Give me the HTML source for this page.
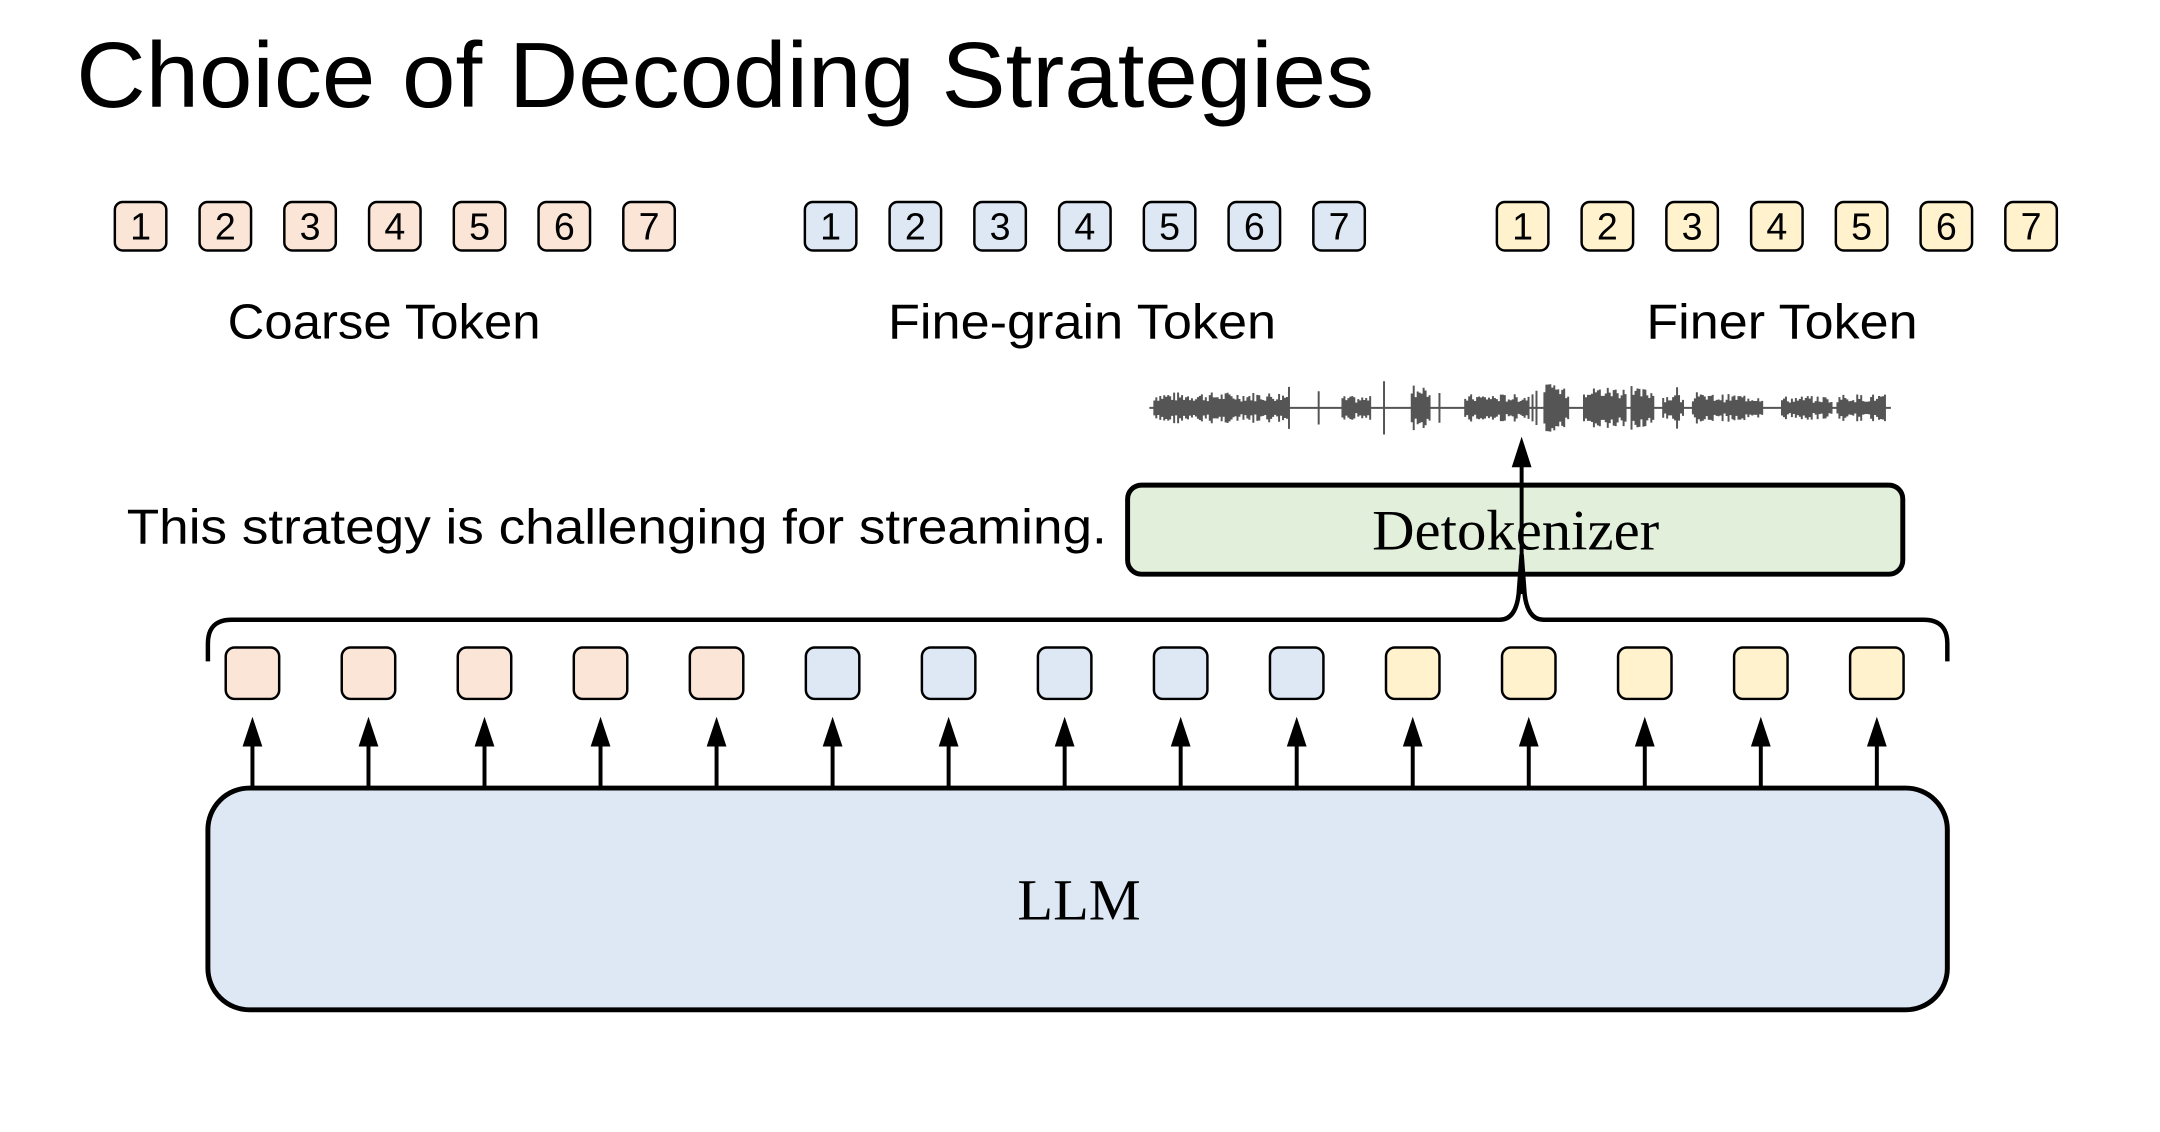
<!DOCTYPE html>
<html><head><meta charset="utf-8"><style>html,body{margin:0;padding:0;background:#fff}svg{display:block}</style></head>
<body>
<svg id="s" width="2160" height="1132" viewBox="0 0 2160 1132" xmlns="http://www.w3.org/2000/svg">
<g transform="scale(0.99)">
<text x="77" y="108" font-family="Liberation Sans, sans-serif" font-size="94" textLength="1311" lengthAdjust="spacingAndGlyphs">Choice of Decoding Strategies</text>
<g id="toprow" font-family="Liberation Sans, sans-serif" font-size="38" text-anchor="middle"></g>
<g font-family="Liberation Sans, sans-serif" font-size="50" text-anchor="middle">
<text x="388" y="342" textLength="316" lengthAdjust="spacingAndGlyphs">Coarse Token</text>
<text x="1093" y="342" textLength="392" lengthAdjust="spacingAndGlyphs">Fine-grain Token</text>
<text x="1800" y="342" textLength="274" lengthAdjust="spacingAndGlyphs">Finer Token</text>
</g>
<text x="128" y="549" font-family="Liberation Sans, sans-serif" font-size="50" textLength="990" lengthAdjust="spacingAndGlyphs">This strategy is challenging for streaming.</text>
<g id="wave" stroke="#555" stroke-width="2"></g>
<rect x="1139" y="490" width="783" height="90" rx="14" fill="#e2efda" stroke="#000" stroke-width="5"/>
<text x="1531" y="555" font-family="Liberation Serif, serif" font-size="58" text-anchor="middle" textLength="290" lengthAdjust="spacingAndGlyphs">Detokenizer</text>
<path d="M210 668 L210 650 Q210 626 234 626 L1515 626 Q1531 626 1534 600 L1537 560 L1540 600 Q1543 626 1559 626 L1943 626 Q1967 626 1967 650 L1967 668" fill="none" stroke="#000" stroke-width="4.5"/>
<line x1="1537" y1="600" x2="1537" y2="470" stroke="#000" stroke-width="4"/>
<polygon points="1537,441 1527,472 1547,472" fill="#000"/>
<rect x="210" y="796" width="1757" height="224" rx="42" fill="#dee8f4" stroke="#000" stroke-width="5"/>
<text x="1090" y="929" font-family="Liberation Serif, serif" font-size="59" text-anchor="middle">LLM</text>
<g id="mid"></g>
</g>
</svg>
<script>
(function(){
var NS="http://www.w3.org/2000/svg";
function el(p,t,a){var e=document.createElementNS(NS,t);for(var k in a)e.setAttribute(k,a[k]);p.appendChild(e);return e;}
var tr=document.getElementById('toprow');
var cols=["#fbe5d6","#dee8f4","#fff2cc"],starts=[116,813,1512];
for(var g=0;g<3;g++)for(var i=0;i<7;i++){var x=starts[g]+i*85.6;
el(tr,'rect',{x:x,y:204,width:52,height:49,rx:8,fill:cols[g],stroke:'#000','stroke-width':2.5});
var t=el(tr,'text',{x:x+26,y:242});t.textContent=String(i+1);}
var mid=document.getElementById('mid');
for(var i=0;i<15;i++){var x=228+i*117.2;
el(mid,'rect',{x:x,y:654,width:54,height:52,rx:9,fill:cols[Math.floor(i/5)],stroke:'#000','stroke-width':2.5});
var cx=x+27;el(mid,'line',{x1:cx,y1:796,x2:cx,y2:750,stroke:'#000','stroke-width':4});
el(mid,'polygon',{points:cx+',724 '+(cx-10)+',754 '+(cx+10)+',754',fill:'#000'});}
var w=document.getElementById('wave');var seed=7;function r(){seed=(seed*9301+49297)%233280;return seed/233280;}
var segs=[[1165,1300,16],[1355,1385,12],[1425,1445,24],[1480,1545,14],[1560,1585,24],[1600,1640,22],[1650,1670,20],[1680,1700,14],[1710,1780,14],[1800,1850,12],[1855,1905,14]];
var d="M1162 412 L1910 412 ";
for(var x=1162;x<1910;x+=2){var a=1;for(var s=0;s<segs.length;s++){var sg=segs[s];if(x>=sg[0]&&x<=sg[1]){a=sg[2]*(0.4+0.6*r());}}
if(r()<0.03&&x>1300)a=Math.max(a,28*r());d+="M"+x+" "+(412-a)+" L"+x+" "+(412+a)+" ";}
el(w,'path',{d:d,fill:'none'});
})();
</script>
</body></html>
